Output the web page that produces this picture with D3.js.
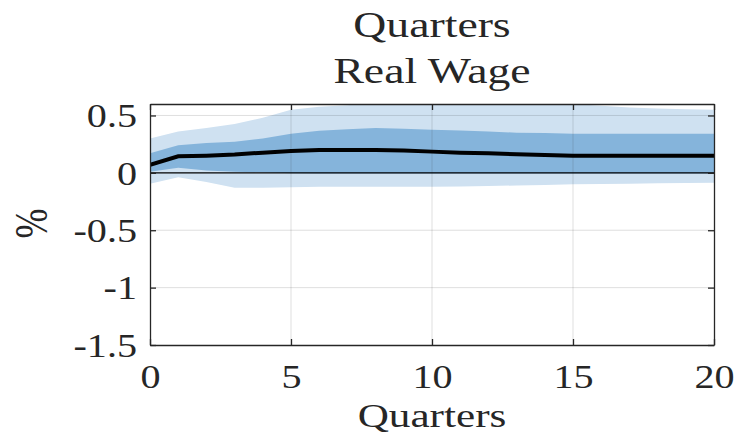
<!DOCTYPE html>
<html>
<head>
<meta charset="utf-8">
<script src="https://cdn.jsdelivr.net/npm/d3@7"></script>
<style>
  body { margin: 0; background: #fff; }
  text { font-family: "Liberation Serif", serif; fill: #262626; }
</style>
</head>
<body>
<svg width="738" height="434"></svg>
<script>
// impulse response, real wage (%)
var quarters = d3.range(0, 21);
var median = [0.07, 0.145, 0.15, 0.16, 0.176, 0.19, 0.2, 0.2, 0.2, 0.195, 0.185,
  0.176, 0.17, 0.162, 0.156, 0.15, 0.15, 0.148, 0.148, 0.15, 0.15];
var innerHi = [0.17, 0.24, 0.26, 0.27, 0.30, 0.34, 0.367, 0.38, 0.39, 0.385, 0.375,
  0.37, 0.36, 0.35, 0.347, 0.34, 0.34, 0.34, 0.34, 0.34, 0.34];
var innerLo = [0.01, 0.045, 0.02, 0.01, 0.005, -0.003, -0.005, -0.005, -0.005, -0.005, -0.005,
  -0.005, -0.005, -0.005, -0.005, -0.005, -0.005, -0.005, -0.005, -0.005, -0.005];
var outerHi = [0.30, 0.36, 0.39, 0.425, 0.48, 0.55, 0.575, 0.59, 0.61, 0.62, 0.62,
  0.62, 0.62, 0.615, 0.61, 0.60, 0.585, 0.57, 0.56, 0.555, 0.55];
var outerLo = [-0.095, -0.038, -0.08, -0.13, -0.13, -0.125, -0.122, -0.12, -0.12, -0.12, -0.12,
  -0.118, -0.115, -0.11, -0.105, -0.10, -0.097, -0.094, -0.091, -0.089, -0.087];
var xTicks = [0, 5, 10, 15, 20];
var yTicks = [-1.5, -1, -0.5, 0, 0.5];

var margin = {top: 104, right: 24, bottom: 89, left: 150},
  width = 738 - margin.left - margin.right,
  height = 434 - margin.top - margin.bottom;

// the picture is a bit stretched sideways, so is the text
var sx = 1.27, tsx = 1.18;

var svg = d3.select('svg')
  .append('g')
  .attr('transform', 'translate(' + margin.left + ',' + margin.top + ')');

var x = d3.scaleLinear().domain([0, 20]).range([0, width]);
var y = d3.scaleLinear().domain([-1.5, 0.6]).range([height, 0]);

svg.append('clipPath').attr('id', 'clip')
  .append('rect').attr('width', width).attr('height', height);

var plot = svg.append('g').attr('clip-path', 'url(#clip)');

var band = function(lo, hi) {
  return d3.area()
    .x(function(d) { return x(d); })
    .y0(function(d, i) { return y(lo[i]); })
    .y1(function(d, i) { return y(hi[i]); });
};

plot.append('path').datum(quarters)
  .attr('d', band(outerLo, outerHi))
  .style('fill', '#cfe1f1');
plot.append('path').datum(quarters)
  .attr('d', band(innerLo, innerHi))
  .style('fill', '#85b4db');

// grid on top of the bands
plot.selectAll('.gx').data(xTicks.slice(1, -1)).enter().append('line')
  .attr('x1', x).attr('x2', x).attr('y1', 0).attr('y2', height)
  .style('stroke', 'rgba(38,38,38,0.15)').style('stroke-width', 1);
plot.selectAll('.gy').data([-1, -0.5, 0.5]).enter().append('line')
  .attr('x1', 0).attr('x2', width).attr('y1', y).attr('y2', y)
  .style('stroke', 'rgba(38,38,38,0.15)').style('stroke-width', 1);

// zero line
plot.append('line')
  .attr('x1', 0).attr('x2', width).attr('y1', y(0)).attr('y2', y(0))
  .style('stroke', '#000').style('stroke-width', 1.3);

plot.append('path').datum(quarters)
  .attr('d', d3.line().x(function(d) { return x(d); }).y(function(d, i) { return y(median[i]); }))
  .style('fill', 'none').style('stroke', '#000').style('stroke-width', 4);

// axes, ticks inside on all four sides
var fmt = function(d) { return d3.format('')(d).replace('\u2212', '-'); };
var axes = [
  [d3.axisBottom(x), 'translate(0,' + height + ')', xTicks],
  [d3.axisTop(x), 'translate(0,0)', xTicks],
  [d3.axisLeft(y), 'translate(0,0)', yTicks],
  [d3.axisRight(y), 'translate(' + width + ',0)', yTicks]
];
axes.forEach(function(a, k) {
  var g = svg.append('g')
    .attr('transform', a[1])
    .call(a[0].tickValues(a[2]).tickSizeInner(-6).tickSizeOuter(0).tickFormat(fmt));
  g.select('.domain').style('stroke', '#262626').style('stroke-width', 1.3);
  g.selectAll('.tick line').style('stroke', '#262626').style('stroke-width', 1.3);
  g.selectAll('text').style('font-family', '"Liberation Serif", serif')
    .style('font-size', '34px').style('fill', '#262626');
  if (k == 0) g.selectAll('text').attr('dy', null).attr('y', 43)
    .attr('x', 0).attr('transform', 'scale(' + tsx + ',1)');
  else if (k == 2) g.selectAll('text').attr('x', -13 / tsx).attr('dy', '0.33em')
    .attr('transform', 'scale(' + tsx + ',1)');
  else g.selectAll('text').remove();
});

var label = function(cx, cy, rot, txt, size) {
  svg.append('text')
    .attr('transform', 'translate(' + cx + ',' + cy + ')' +
      (rot ? ' rotate(-90) scale(1,' + sx + ')' : ' scale(' + sx + ',1)'))
    .style('text-anchor', 'middle').style('font-size', size + 'px')
    .text(txt);
};

label(width / 2, 323, false, 'Quarters', 34);
label(-103, height / 2 - 1, true, '%', 36);
label(width / 2, -67, false, 'Quarters', 36);
label(width / 2, -21, false, 'Real Wage', 36);
</script>
</body>
</html>
